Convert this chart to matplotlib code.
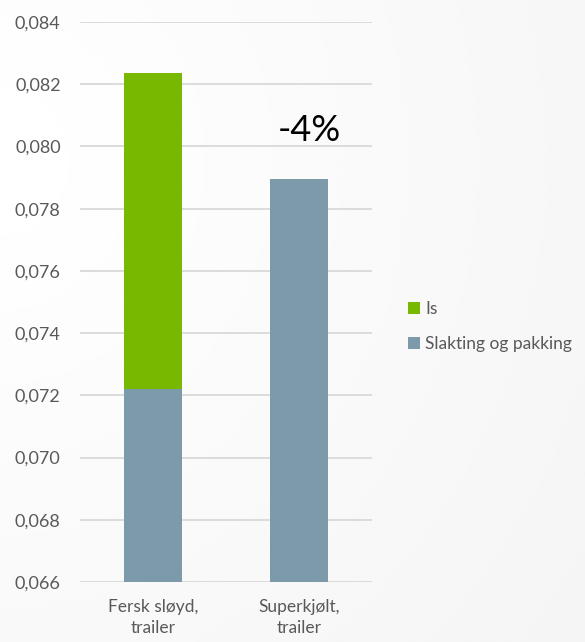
import matplotlib.pyplot as plt
import numpy as np

# Data
categories = ["Fersk sløyd,\ntrailer", "Superkjølt,\ntrailer"]
slakting = [0.0722, 0.07895]
is_vals = [0.01015, 0.0]
y_ticks = [0.066, 0.068, 0.070, 0.072, 0.074, 0.076, 0.078, 0.080, 0.082, 0.084]

green = "#78b800"
grayblue = "#7d9aab"
txt = "#595959"

plt.rcParams["font.family"] = ["Lato", "DejaVu Sans"]

fig = plt.figure(figsize=(5.85, 6.42), dpi=100)

# Subtle background gradient
bg = fig.add_axes([0, 0, 1, 1], zorder=-10)
yy, xx = np.mgrid[0:1:200j, 0:1:200j]
grad = np.clip(np.sqrt((xx - 0.0) ** 2 + (yy - 0.25) ** 2) / 1.2, 0, 1)
bg.imshow(1 - 0.04 * grad, cmap="gray", vmin=0, vmax=1, extent=[0, 1, 0, 1],
          aspect="auto", origin="upper")
bg.axis("off")

ax = fig.add_axes([0.137, 0.0935, 0.499, 0.8722])
ax.patch.set_visible(False)

x = np.arange(len(categories))
ax.bar(x, slakting, width=0.4, color=grayblue, label="Slakting og pakking", zorder=2)
ax.bar(x, is_vals, bottom=slakting, width=0.4, color=green, label="Is", zorder=2)

ax.set_xlim(-0.5, 1.5)
ax.set_ylim(0.066, 0.084)
ax.set_yticks(y_ticks)
ax.set_yticklabels([f"{v:.3f}".replace(".", ",") for v in y_ticks])
ax.set_xticks(x)
ax.set_xticklabels(categories, linespacing=1.4)
ax.tick_params(axis="y", length=0, pad=14, labelsize=13, labelcolor=txt)
ax.tick_params(axis="x", length=0, pad=12, labelsize=12.5, labelcolor=txt)
ax.grid(axis="y", color="#d9d9d9", linewidth=1.3, zorder=0)
for s in ax.spines.values():
    s.set_visible(False)

ax.text(1.07, 0.0805, "-4%", fontsize=26, ha="center", va="center", color="black")

handles, labels = ax.get_legend_handles_labels()
leg = fig.legend(handles[::-1], labels[::-1], loc="center left",
                 bbox_to_anchor=(0.697, 0.491), frameon=False, fontsize=12.5,
                 borderaxespad=0, borderpad=0,
                 handlelength=0.7, handleheight=0.7, handletextpad=0.3,
                 labelspacing=1.1, labelcolor=txt)

fig.savefig("out.png", dpi=100)
